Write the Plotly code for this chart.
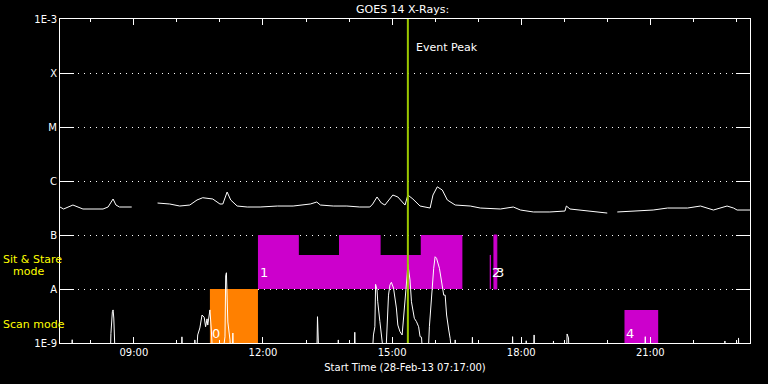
import numpy as np
import pandas as pd
import plotly.graph_objects as go

DAY = "2013-02-28 "

# GOES long channel (1-8 A); None = data gap
long_times = ["07:17","07:22","07:35","07:49","08:17","08:24","08:31","08:35","08:40","08:57",
              "09:15","09:33","09:50","10:04","10:18","10:28","10:36","10:50","11:00","11:04",
              "11:10","11:15","11:24","11:38","11:56","12:20","12:42","13:06","13:15","13:20",
              "13:38","13:57","14:15","14:29","14:33","14:39","14:45","14:50","14:57","15:01",
              "15:08","15:15","15:18","15:22","15:29","15:39","15:53","15:57","16:03","16:10",
              "16:17","16:28","16:49","17:03","17:31","17:49","17:59","18:17","18:40","19:01",
              "19:03","19:08","19:32","20:00","20:07","20:14","20:36","21:04","21:24","21:52",
              "22:10","22:28","22:47","22:56","23:01","23:19"]
long_flux = [3.3e-7, 3.03e-7, 3.59e-7, 3.03e-7, 3.03e-7, 3.3e-7, 4.64e-7, 3.59e-7, 3.3e-7, 3.3e-7,
             None, 3.91e-7, 3.75e-7, 3.44e-7, 3.59e-7, 4.45e-7, 4.9e-7, 4.64e-7, 3.75e-7, 3.75e-7,
             6.25e-7, 4.45e-7, 3.44e-7, 3.3e-7, 3.3e-7, 3.44e-7, 3.44e-7, 3.75e-7, 4.08e-7, 3.59e-7,
             3.44e-7, 3.44e-7, 3.3e-7, 3.3e-7, 3.75e-7, 5.06e-7, 3.91e-7, 3.59e-7, 4.84e-7, 5.5e-7,
             5.06e-7, 4.08e-7, 3.59e-7, 5.5e-7, 4.64e-7, 3.44e-7, 3.16e-7, 5.5e-7, 7.8e-7, 6.8e-7,
             4.45e-7, 3.59e-7, 3.44e-7, 3.16e-7, 3.03e-7, 3.3e-7, 2.9e-7, 2.67e-7, 2.67e-7, 2.78e-7,
             3.44e-7, 3.03e-7, 2.78e-7, 2.55e-7, None, 2.67e-7, 2.78e-7, 2.9e-7, 3.16e-7, 3.16e-7,
             3.44e-7, 2.9e-7, 3.44e-7, 3.16e-7, 2.9e-7, 2.9e-7]

# GOES short channel (0.5-4 A); values below 1E-9 fall off the bottom of the plot
short_times = ["07:17","07:33","07:34","07:35",
               "08:27","08:28","08:30","08:31","08:32","08:33","08:34",
               "10:06","10:07","10:08",
               "10:24","10:25","10:27","10:29","10:32","10:35","10:38","10:40","10:42","10:43","10:46","10:48","10:50",
               "11:03","11:07","11:08","11:09","11:10","11:11","11:14","11:15","11:17","11:18","11:19",
               "13:15","13:16","13:17","13:18",
               "13:44","13:45","13:46",
               "14:07","14:08","14:09",
               "14:32","14:34","14:36","14:37","14:39","14:40","14:43","14:46","14:49",
               "14:51","14:53","14:55","14:57","14:59","15:02","15:06","15:08","15:11","15:14",
               "15:15","15:17","15:21","15:22","15:25","15:27","15:31","15:34","15:37","15:39","15:41","15:43",
               "15:50","15:52","15:55","15:58","16:00","16:02","16:06","16:09","16:12","16:14","16:16","16:19","16:21","16:24",
               "16:27","16:28","16:29",
               "16:51","16:52","16:53",
               "17:47","17:48","17:49",
               "18:06","18:07","18:08",
               "18:17","18:18","18:19",
               "18:44","18:45","18:46",
               "19:03","19:04","19:06","19:07",
               "20:52","20:53","20:54",
               "22:43","22:44","22:45",
               "23:02","23:03","23:04","23:19"]
short_flux = [5e-10, 5e-10, 1.15e-9, 5e-10,
              5e-10, 1.5e-9, 3.8e-9, 4.1e-9, 2.9e-9, 1.5e-9, 5e-10,
              5e-10, 1.3e-9, 5e-10,
              5e-10, 1.14e-9, 5e-10, 1.41e-9, 1.9e-9, 3.3e-9, 3.0e-9, 2.0e-9, 2.8e-9, 2.15e-9, 4.1e-9, 1.74e-9, 5e-10,
              5e-10, 1.3e-9, 1.74e-8, 2.0e-8, 7.1e-9, 2.45e-9, 1.14e-9, 5e-10, 5e-10, 1.53e-9, 5e-10,
              5e-10, 3.07e-9, 1.7e-9, 5e-10,
              5e-10, 1.14e-9, 5e-10,
              5e-10, 1.58e-9, 5e-10,
              5e-10, 1.41e-9, 2.0e-9, 1.22e-8, 9.6e-9, 5.8e-9, 2.48e-9, 1.09e-9, 5e-10,
              5e-10, 3.07e-9, 7.7e-9, 1.19e-8, 1.33e-8, 1.04e-8, 4.45e-9, 2.15e-9, 1.62e-9, 1.41e-9,
              2.0e-9, 3.3e-9, 1.82e-8, 2.87e-8, 1.47e-8, 5.8e-9, 2.87e-9, 2.48e-9, 2.0e-9, 1.31e-9, 1.28e-9, 5e-10,
              5e-10, 2.0e-9, 8.9e-9, 2.42e-8, 3.96e-8, 3.7e-8, 2.42e-8, 1.28e-8, 7.7e-9, 7.7e-9, 3.3e-9, 1.74e-9, 1.2e-9, 5e-10,
              5e-10, 1.14e-9, 5e-10,
              5e-10, 1.28e-9, 5e-10,
              5e-10, 1.31e-9, 5e-10,
              5e-10, 1.1e-9, 5e-10,
              5e-10, 1.41e-9, 5e-10,
              5e-10, 1.09e-9, 5e-10,
              5e-10, 1.47e-9, 1.24e-9, 5e-10,
              5e-10, 1.31e-9, 5e-10,
              5e-10, 1.09e-9, 5e-10,
              5e-10, 1.24e-9, 5e-10, 5e-10]

# Observing sessions
scan_labels = ["0", "4"]
scan_start = ["10:46", "20:24"]
scan_end = ["11:53", "21:11"]
scan_top = [1e-8, 4.1e-9]
scan_colors = ["#ff8000", "#cc00cc"]

ss1_edges = ["11:53", "12:50", "13:46", "14:44", "15:40", "16:38"]
ss1_tops = [1e-7, 4.27e-8, 1e-7, 4.27e-8, 1e-7]

ss_labels = ["2", "3"]
ss_start = ["17:17", "17:22"]
ss_end = ["17:17", "17:26"]
ss_top = [4.27e-8, 1e-7]

event_peak = "15:22"

x_range = ["07:17", "23:19"]
tick_times = ["09:00", "12:00", "15:00", "18:00", "21:00"]
y_tickvals = [1e-9, 1e-8, 1e-7, 1e-6, 1e-5, 1e-4, 1e-3]
y_ticktext = ["1E-9", "A", "B", "C", "M", "X", "1E-3"]


def T(s):
    return pd.Timestamp(DAY + s)


FONT = "DejaVu Sans"
fig = go.Figure()

# scan-mode boxes
for lab, s, e, top, c in zip(scan_labels, scan_start, scan_end, scan_top, scan_colors):
    fig.add_trace(go.Scatter(x=[T(s), T(s), T(e), T(e), T(s)], y=[1e-9, top, top, 1e-9, 1e-9],
                             mode="lines", fill="toself", fillcolor=c, line=dict(width=0, color=c),
                             hoverinfo="skip", showlegend=False))

# sit & stare session 1 (stepped)
px_, py_ = [T(ss1_edges[0])], [1e-8]
for i, top in enumerate(ss1_tops):
    px_ += [T(ss1_edges[i]), T(ss1_edges[i + 1])]
    py_ += [top, top]
px_ += [T(ss1_edges[-1]), T(ss1_edges[0])]
py_ += [1e-8, 1e-8]
fig.add_trace(go.Scatter(x=px_, y=py_, mode="lines", fill="toself", fillcolor="#cc00cc",
                         line=dict(width=0, color="#cc00cc"), hoverinfo="skip", showlegend=False))

# sessions 2 and 3 (short), drawn with a 1px outline so the very short one shows
for lab, s, e, top in zip(ss_labels, ss_start, ss_end, ss_top):
    fig.add_trace(go.Scatter(x=[T(s), T(s), T(e), T(e), T(s)], y=[1e-8, top, top, 1e-8, 1e-8],
                             mode="lines", fill="toself", fillcolor="#cc00cc",
                             line=dict(width=1, color="#cc00cc"), hoverinfo="skip", showlegend=False))

# GOES curves
fig.add_trace(go.Scatter(x=[T(t) for t in long_times], y=long_flux, mode="lines",
                         line=dict(color="white", width=1), connectgaps=False, showlegend=False))
fig.add_trace(go.Scatter(x=[T(t) for t in short_times], y=short_flux, mode="lines",
                         line=dict(color="white", width=1), showlegend=False))

# event peak line
fig.add_shape(type="line", x0=T(event_peak), x1=T(event_peak), yref="y domain", y0=0, y1=1,
              line=dict(color="#9bc800", width=2), layer="above")

annotations = []
num_font = dict(family=FONT, size=13, color="white")
annotations.append(dict(x=T(scan_start[0]), y=np.log10(1.5e-9), text=scan_labels[0], xanchor="left",
                        yanchor="middle", showarrow=False, font=num_font))
annotations.append(dict(x=T(scan_start[1]), y=np.log10(1.5e-9), text=scan_labels[1], xanchor="left",
                        yanchor="middle", showarrow=False, font=num_font))
annotations.append(dict(x=T(ss1_edges[0]), y=np.log10(2e-8), text="1", xanchor="left",
                        yanchor="middle", showarrow=False, font=num_font))
for lab, s in zip(ss_labels, ss_start):
    annotations.append(dict(x=T(s), y=np.log10(2e-8), text=lab, xanchor="left",
                            yanchor="middle", showarrow=False, font=num_font))

annotations.append(dict(x=T(event_peak), y=np.log10(3.0e-4), text="Event Peak", xanchor="left",
                        xshift=6, yanchor="middle", showarrow=False,
                        font=dict(family=FONT, size=11, color="white")))


def PX(px):
    return (px - 60) / 690.0


def PY(py):
    return (343 - py) / 324.0


yel = dict(family=FONT, size=11, color="#ffff00")
annotations.append(dict(xref="paper", yref="paper", x=PX(1), y=PY(259), text="Sit & Stare",
                        xanchor="left", yanchor="middle", showarrow=False, font=yel))
annotations.append(dict(xref="paper", yref="paper", x=PX(11), y=PY(271), text="mode",
                        xanchor="left", yanchor="middle", showarrow=False, font=yel))
annotations.append(dict(xref="paper", yref="paper", x=PX(1), y=PY(324), text="Scan mode",
                        xanchor="left", yanchor="middle", showarrow=False, font=yel))
annotations.append(dict(xref="paper", yref="paper", x=PX(402), y=PY(9), text="GOES 14 X-Rays:",
                        xanchor="center", yanchor="middle", showarrow=False,
                        font=dict(family=FONT, size=11, color="white")))

fig.update_layout(
    width=768, height=384,
    margin=dict(l=60, r=18, t=19, b=41),
    paper_bgcolor="black", plot_bgcolor="black",
    font=dict(family=FONT, size=10, color="white"),
    annotations=annotations,
    showlegend=False,
)
fig.update_xaxes(
    type="date", range=[T(x_range[0]), T(x_range[1])],
    tickvals=[T(t) for t in tick_times], tickformat="%H:%M",
    ticks="inside", ticklen=6, tickcolor="white", tickwidth=1,
    minor=dict(dtick=3600000, ticks="inside", ticklen=3, tickcolor="white", tickwidth=1, showgrid=False),
    showline=True, linecolor="white", linewidth=1, mirror="allticks",
    showgrid=False, zeroline=False,
    tickfont=dict(family=FONT, size=10, color="white"),
    title=dict(text="Start Time (28-Feb-13 07:17:00)", font=dict(family=FONT, size=10, color="white"), standoff=6),
)
fig.update_yaxes(
    type="log", range=[-9, -3],
    tickvals=y_tickvals, ticktext=y_ticktext,
    ticks="inside", ticklen=14, tickcolor="white", tickwidth=1,
    showline=True, linecolor="white", linewidth=1, mirror="allticks",
    showgrid=True, gridcolor="white", gridwidth=1, griddash="1px,5px",
    zeroline=False,
    tickfont=dict(family=FONT, size=10, color="white"),
)

fig.write_html("out.html", config={"displayModeBar": False},
               post_script="document.body.style.margin='0';document.body.style.background='black';")
